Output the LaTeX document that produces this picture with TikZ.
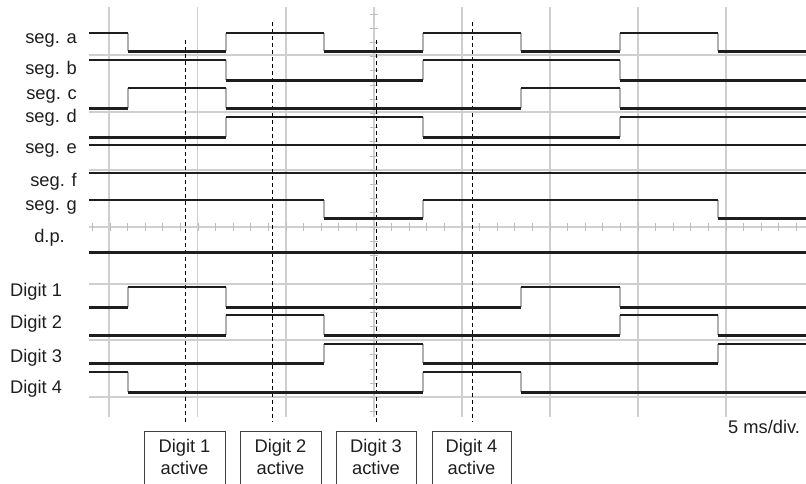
\documentclass[tikz,border=0pt]{standalone}
\usepackage{fontspec}
\setmainfont{Liberation Sans}
\definecolor{ink}{HTML}{1E1E1E}
\definecolor{gridc}{HTML}{CFCFCF}
\definecolor{tickc}{HTML}{BDBDBD}
\definecolor{edgec}{HTML}{B0B0B0}
\tikzset{
  hi/.style={draw=ink, line width=1.8pt},
  lo/.style={draw=ink, line width=3pt},
  edgeline/.style={draw=edgec, line width=1.5pt},
  gridline/.style={draw=gridc, line width=1.3pt},
  tickline/.style={draw=tickc, line width=1pt},
  marker/.style={draw=black, line width=0.9pt, dash pattern=on 4pt off 3pt},
  boxline/.style={draw=ink!85, line width=1pt},
  lbl/.style={font=\fontsize{18.3}{20}\selectfont, text=ink, inner sep=0pt},
}
\newcommand\wavetrace[5]{%
  \foreach \t in {#5} \draw[edgeline] (\t,#1) -- (\t,#2);
  \foreach \p/\q in {#3} \draw[hi] (\p,#1) -- (\q,#1);
  \foreach \p/\q in {#4} \draw[lo] (\p,#2) -- (\q,#2);
}
\begin{document}
\begin{tikzpicture}[x=1pt,y=-1pt]
\useasboundingbox (0,0) rectangle (806,483);
% grid
\foreach \y in {55,112,170,227,284,340,397} \draw[gridline] (89,\y) -- (806,\y);
\foreach \x in {109,197.5,286,374,462,550,638,726} \draw[gridline] (\x,7) -- (\x,417);
\foreach \k in {-16,...,24} \draw[tickline] (374+\k*17.6,223) -- (374+\k*17.6,231);
\foreach \k in {-15,...,13} \draw[tickline] (370,227+\k*14.2) -- (378,227+\k*14.2);
% markers
\draw[marker] (185,40) -- (185,422);
\draw[marker] (272,22) -- (272,422);
\draw[marker] (376,40) -- (376,422);
\draw[marker] (472,22) -- (472,422);
% traces
\wavetrace{33}{51}{89/128,226/324,423/521,620/718}{128/226,324/423,521/620,718/806}{128,226,324,423,521,620,718}
\wavetrace{60}{80}{89/226,423/620}{226/423,620/806}{226,423,620}
\wavetrace{88}{108}{128/226,521/620}{89/128,226/521,620/806}{128,226,521,620}
\wavetrace{117}{137}{226/423,620/806}{89/226,423/620}{226,423,620}
\draw[hi] (89,145) -- (806,145);
\draw[hi] (89,173) -- (806,173);
\wavetrace{200}{218}{89/324,423/718}{324/423,718/806}{324,423,718}
\draw[lo] (89,252) -- (806,252);
\wavetrace{287}{307}{128/226,521/620}{89/128,226/521,620/806}{128,226,521,620}
\wavetrace{315}{335}{226/324,620/718}{89/226,324/620,718/806}{226,324,620,718}
\wavetrace{344}{363}{324/423,718/806}{89/324,423/718}{324,423,718}
\wavetrace{372}{392}{89/128,423/521}{128/423,521/806}{128,423,521}
% labels
\node[lbl, anchor=base east] (la) at (77,43) {seg. a};
\node[lbl, anchor=base east] (lb) at (77,74) {seg. b};
\node[lbl, anchor=base east] (lc) at (77,99) {seg. c};
\node[lbl, anchor=base east] (ld) at (77,122) {seg. d};
\node[lbl, anchor=base east] (le) at (77,153) {seg. e};
\node[lbl, anchor=base east] (lf) at (77,186) {seg. f};
\node[lbl, anchor=base east] (lg) at (77,210) {seg. g};
\node[lbl, anchor=base east] (ldp) at (65,242) {d.p.};
\node[lbl, anchor=base west] (d1) at (10,296) {Digit 1};
\node[lbl, anchor=base west] (d2) at (10,328) {Digit 2};
\node[lbl, anchor=base west] (d3) at (10,362) {Digit 3};
\node[lbl, anchor=base west] (d4) at (10,393) {Digit 4};
\node[lbl, anchor=base west] (scale) at (728,433) {5 ms/div.};
% boxes
\foreach \a/\b/\n in {144/225/1,240/321/2,336/416/3,432/511/4}{
  \draw[boxline] (\a,484) -- (\a,431) -- (\b,431) -- (\b,484);
  \node[lbl, anchor=base] (bt\n) at ({(\a+\b)/2},452) {Digit \n};
  \node[lbl, anchor=base] (ba\n) at ({(\a+\b)/2},474) {active};
}
\end{tikzpicture}
\end{document}
